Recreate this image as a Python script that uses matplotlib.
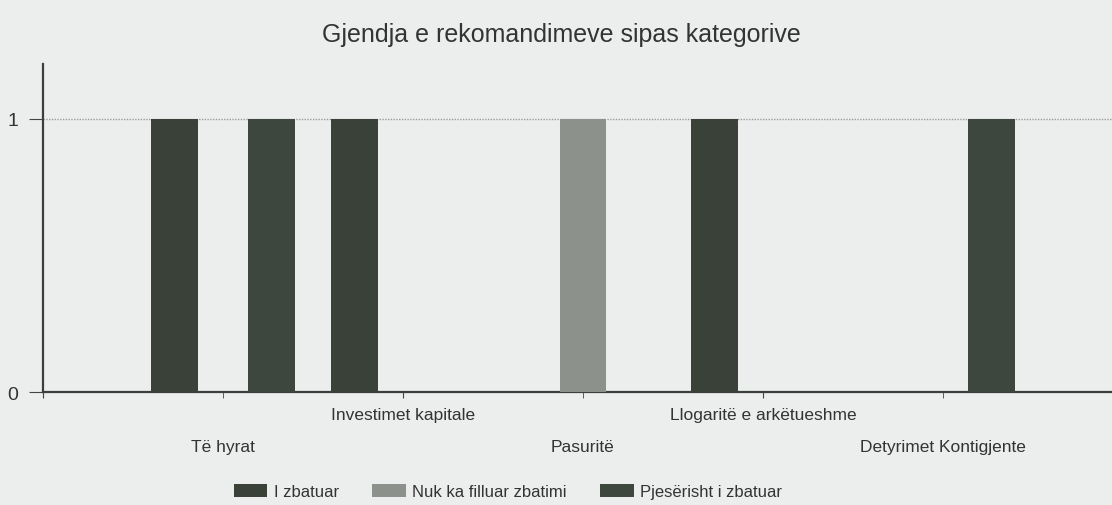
import numpy as np
import matplotlib
matplotlib.use('Agg')
from matplotlib import pyplot as plt

title = 'Gjendja e rekomandimeve sipas kategorive'
categories = ['Të hyrat', 'Investimet kapitale', 'Pasuritë',
              'Llogaritë e arkëtueshme', 'Detyrimet Kontigjente']
series_names = ['I zbatuar', 'Nuk ka filluar zbatimi', 'Pjesërisht i zbatuar']
i_zbatuar = [1, 1, 0, 1, 0]
nuk_ka_filluar = [0, 0, 1, 0, 0]
pjeserisht = [1, 0, 0, 0, 1]

plt.rcParams['font.family'] = ['Liberation Sans', 'DejaVu Sans']
bg = '#eceeee'
txt = '#333333'

fig = plt.figure(figsize=(11.12, 5.06), dpi=100, facecolor=bg)
ax = fig.add_axes([0.0387, 0.2233, 0.9613, 0.6482], facecolor=bg)

x = np.arange(1, len(categories) + 1)
off = 0.27
w = 0.26
colors = ['#394138', '#8c928b', '#3d473e']
for k, vals in enumerate([i_zbatuar, nuk_ka_filluar, pjeserisht]):
	ax.bar(x + (k - 1) * off, vals, width=w, color=colors[k], label=series_names[k], zorder=3)

ax.set_xlim(0, 5.94)
ax.set_ylim(0, 1.2)
ax.set_yticks([0, 1])
ax.set_yticklabels(['0', '1'], fontsize=14, color=txt)
ax.yaxis.grid(True, color='#9a9a9a', linestyle=(0, (1, 1)), linewidth=1.0, zorder=1)
ax.set_axisbelow(True)

# staggered category labels: upper row on major ticks, lower row on minor ticks
ax.set_xticks([0, 2, 4])
ax.set_xticklabels(['', categories[1], categories[3]], fontsize=12.5, color=txt)
ax.set_xticks([1, 3, 5], minor=True)
ax.set_xticklabels([categories[0], categories[2], categories[4]], minor=True, fontsize=12.5, color=txt)
ax.tick_params(axis='x', which='major', length=4, pad=7, color='#444444')
ax.tick_params(axis='x', which='minor', length=4, pad=30, color='#444444')
ax.tick_params(axis='y', length=10, pad=8, color='#444444')

for s in ['top', 'right']:
	ax.spines[s].set_visible(False)
ax.spines['left'].set_color('#3a3f3a')
ax.spines['left'].set_linewidth(1.6)
ax.spines['bottom'].set_color('#3a3f3a')
ax.spines['bottom'].set_linewidth(1.6)

fig.text(0.505, 0.93, title, ha='center', va='center', fontsize=18, color=txt)

fig.legend(loc='center', bbox_to_anchor=(0.457, 0.026), ncol=3, frameon=False,
           fontsize=12, handlelength=2.0, handleheight=0.8, columnspacing=2.0,
           handletextpad=0.4, labelcolor=txt)

fig.savefig('out.png', dpi=100, facecolor=bg)
